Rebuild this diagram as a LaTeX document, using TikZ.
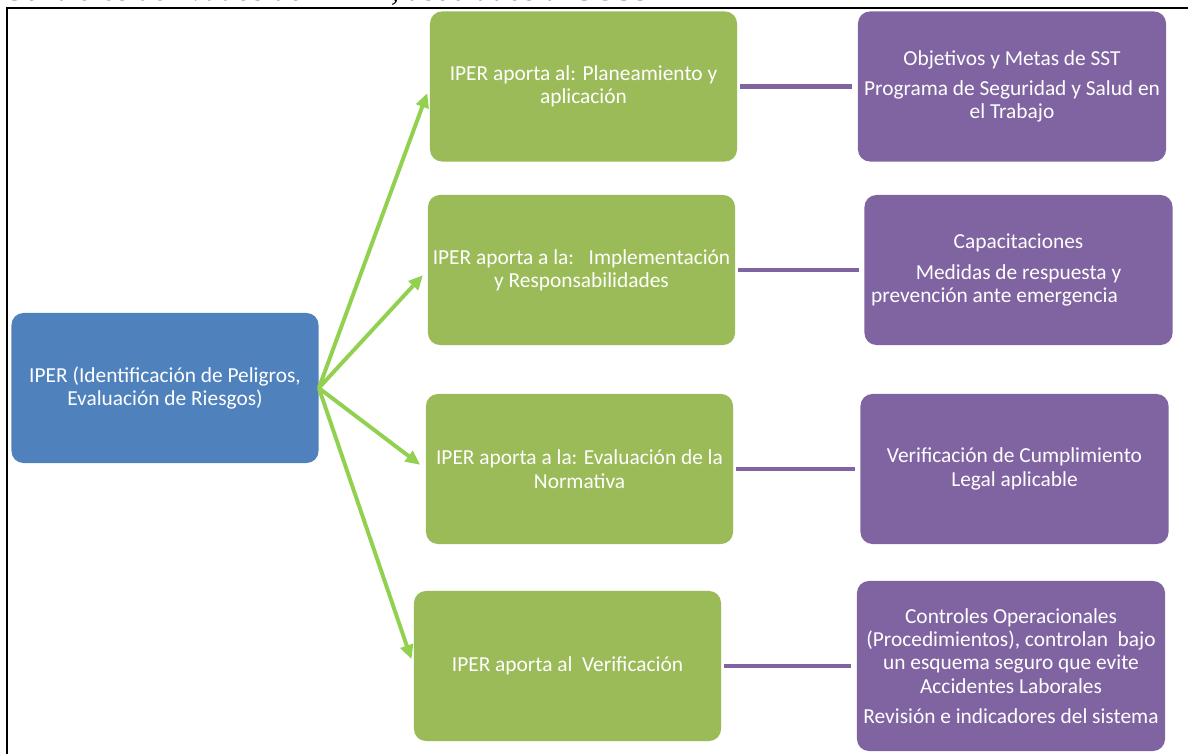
\documentclass[tikz,border=0pt]{standalone}
\usepackage{fontspec}
\usepackage{tikz}
\usetikzlibrary{arrows.meta}
\setmainfont{Carlito}
\newfontfamily\captionserif{Liberation Serif}

\definecolor{iperblue}{HTML}{4F81BD}
\definecolor{aportegreen}{HTML}{9BBB59}
\definecolor{controlpurple}{HTML}{8064A2}
\definecolor{arrowgreen}{HTML}{92D050}

\tikzset{
  box/.style={rounded corners=0.3cm, inner sep=0pt, align=center, text=white,
    minimum width=7.675cm, minimum height=3.75cm,
    font=\fontsize{15.2}{16.6}\selectfont},
  iperbox/.style={box, fill=iperblue},
  aportebox/.style={box, fill=aportegreen},
  controlbox/.style={box, fill=controlpurple, minimum width=7.7cm},
  aportearrow/.style={draw=arrowgreen, line width=2.8pt, shorten >=5pt,
    -{Triangle[length=0.36cm, width=0.32cm]}},
  controlline/.style={draw=controlpurple, line width=3pt, shorten <=2pt, shorten >=4pt}
}

\begin{document}
\begin{tikzpicture}[x=0.025cm, y=-0.025cm]
\useasboundingbox (0,0) rectangle (1188,754);
\clip (0,0) rectangle (1188,754);
%\draw[step=100,gray,very thin] (0,0) grid (1188,754);

% caption, cut off by the top of the page
\node[anchor=base west, inner sep=0pt, font=\captionserif\itshape\fontsize{23}{26}\selectfont] (caption) at (3,1) {Controles derivados del IPER, asociados al SGSST};

% frame
\draw[line width=1.4pt] (1188,8) -- (7,8) -- (7,754);

\node[iperbox] (iper) at (165,388) {IPER (Identificación de Peligros,\\Evaluación de Riesgos)};

\node[aportebox] (plan) at (583.5,86.5) {IPER aporta al: Planeamiento y\\aplicación};
\node[aportebox] (impl) at (581.5,270) {IPER aporta a la:\ \ \ Implementación\\y Responsabilidades};
\node[aportebox] (eval) at (579.5,469) {IPER aporta a la: Evaluación de la\\Normativa};
\node[aportebox] (verif) at (567.5,666) {IPER aporta al\ \ Verificación};

\node[controlbox] (metas) at (1012,86.5) {Objetivos y Metas de SST\\[5pt]Programa de Seguridad y Salud en\\el Trabajo};
\node[controlbox] (capac) at (1018.5,270) {Capacitaciones\\[5pt]Medidas de respuesta y\\prevención ante emergencia\hspace*{1.2cm}\mbox{}};
\node[controlbox] (legal) at (1014.5,469) {Verificación de Cumplimiento\\Legal aplicable};
\node[controlbox, minimum height=4.25cm] (operac) at (1011,666) {Controles Operacionales\\(Procedimientos), controlan\ \ bajo\\un esquema seguro que evite\\Accidentes Laborales\\[5pt]Revisión e indicadores del sistema};

% arrows from IPER
\draw[aportearrow] (iper.east) -- (plan.west);
\draw[aportearrow] (iper.east) -- (impl.west);
\draw[aportearrow] (iper.east) -- (eval.west);
\draw[aportearrow] (iper.east) -- (verif.west);

% links to the controls
\draw[controlline] (plan) -- (metas);
\draw[controlline] (impl) -- (capac);
\draw[controlline] (eval) -- (legal);
\draw[controlline] (verif) -- (operac);

\end{tikzpicture}
\end{document}
